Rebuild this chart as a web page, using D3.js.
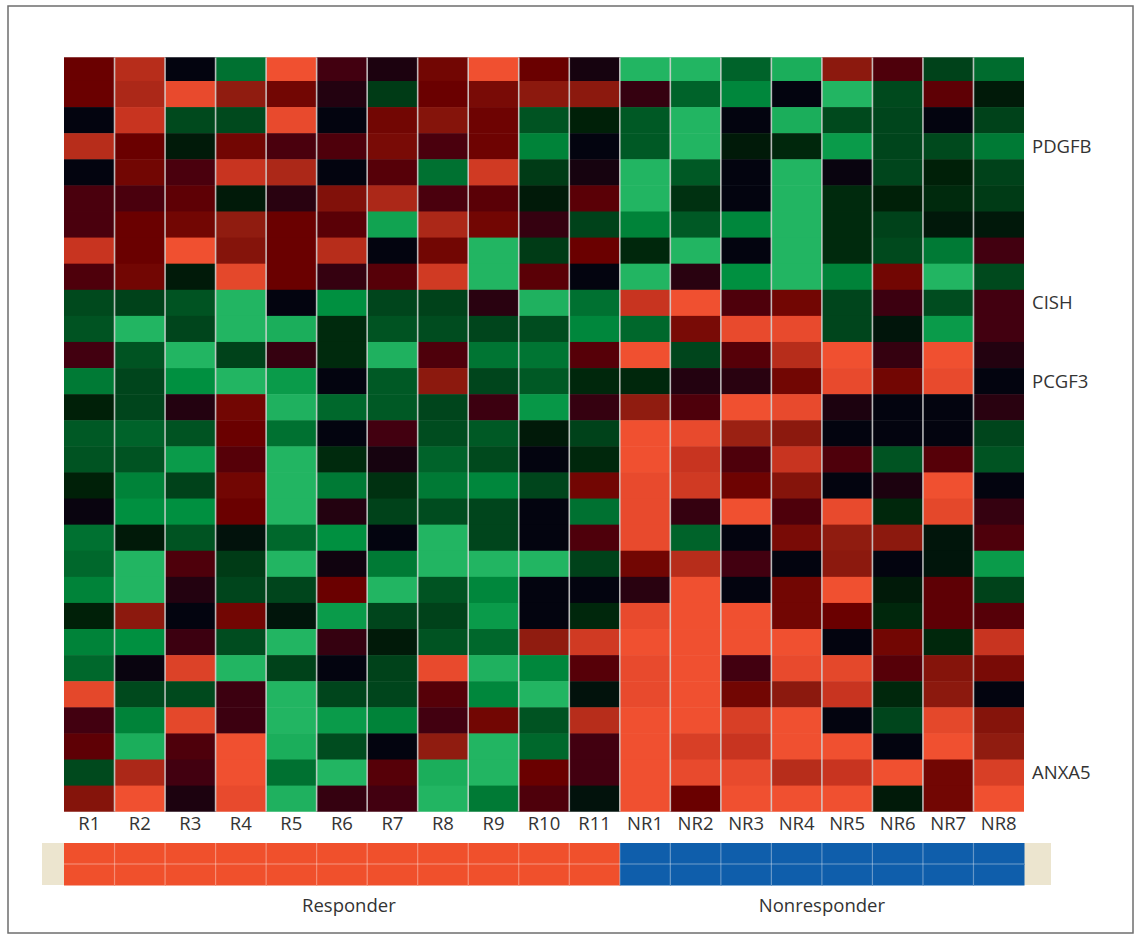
<!DOCTYPE html>
<html>
<head>
<meta charset="utf-8">
<script src="https://cdn.jsdelivr.net/npm/d3@7"></script>
<style>
  body { margin: 0; background: #fff; }
  text { font-family: 'Open Sans', 'Noto Sans', sans-serif; fill: #333; }
</style>
</head>
<body>
<div id="chart"></div>
<script>
// samples (columns) and their group
const samples = ['R1', 'R2', 'R3', 'R4', 'R5', 'R6', 'R7', 'R8', 'R9', 'R10', 'R11',
  'NR1', 'NR2', 'NR3', 'NR4', 'NR5', 'NR6', 'NR7', 'NR8'];
const groups = ['Responder', 'Responder', 'Responder', 'Responder', 'Responder', 'Responder',
  'Responder', 'Responder', 'Responder', 'Responder', 'Responder',
  'Nonresponder', 'Nonresponder', 'Nonresponder', 'Nonresponder', 'Nonresponder',
  'Nonresponder', 'Nonresponder', 'Nonresponder'];
const groupNames = ['Responder', 'Nonresponder'];

// 29 genes, only some are labelled
const geneLabels = ['', '', '', 'PDGFB', '', '', '', '', '', 'CISH', '', '', 'PCGF3', '', '',
  '', '', '', '', '', '', '', '', '', '', '', '', 'ANXA5', ''];

// relative expression per sample (green = low, red = high), top row first
const R1 = [2, 2, 0, 3.7, 0, 1.2, 1.2, 4, 1.3, -2.2, -2.5, 1, -3.5, -1, -2.7, -2.5, -1, 0.1, -3.3, -3.1, -3.7, -1, -3.7, -3.1, 4.7, 1, 1.7, -2.2, 2.7];
const R2 = [3.7, 3.5, 4, 2, 2.2, 1.2, 2, 2, 2.2, -2, -5, -2.5, -2.1, -2.1, -3, -2.5, -3.7, -4, -0.8, -5, -5, 2.9, -4, 0.1, -2.2, -3.7, -4.8, 3.5, 5];
const R3 = [0, 4.8, -2.2, -0.8, 1.2, 1.7, 2.2, 5, -0.8, -2.5, -2.1, -5, -4, 0.5, -2.5, -4.3, -2, -4, -2.5, 1.3, 0.5, 0, 0.9, 4.5, -2.2, 4.7, 1.3, 1, 0.4];
const R4 = [-3.3, 3, -2.2, 2.2, 4, -0.8, 3, 2.7, 4.7, -5, -5, -2, -5, 2.2, 2, 1.5, 2.2, 2, -0.5, -1.8, -2.1, 2.2, -2.3, -5, 0.9, 0.9, 5, 5, 4.8];
const R5 = [5, 2.2, 4.8, 1.2, 3.5, 0.6, 2, 2, 2, 0, -4.8, 0.8, -4.3, -4.9, -3.3, -5, -5, -5, -3.1, -5, -2.1, -0.6, -5, -2, -5, -5, -4.8, -3.3, -4.9];
const R6 = [1, 0.5, 0, 1.3, 0, 2.6, 1.6, 3.7, 0.8, -4, -1.3, -1.3, 0, -3.1, 0, -1.3, -3.5, 0.5, -4, 0.2, 2, -4.3, 0.8, 0, -2.1, -4.3, -2.3, -5, 0.8];
const R7 = [0.4, -1.8, 2.2, 2.4, 1.5, 3.5, -4.5, 0, 1.5, -2.1, -2.5, -4.9, -2.7, -2.7, 1, 0.3, -1.5, -2, 0, -3.5, -5, -2.1, -0.8, -2, -2.1, -3.7, 0, 1.5, 1];
const R8 = [2.2, 2, 2.7, 1.2, -3.3, 1.2, 3.5, 2.2, 4.2, -2, -2.3, 1.3, 2.9, -2.1, -2.3, -3, -3.5, -2.3, -5, -5, -2.5, -2, -2.5, 4.8, 1.5, 1, 3, -4.8, -5];
const R9 = [5, 2.4, 2.1, 2.1, 4.2, 1.6, 2.2, -5, -5, 0.6, -2.1, -3.4, -2.1, 0.9, -2.7, -2.2, -3.8, -2.1, -2.1, -5, -3.8, -4.3, -3.1, -4.9, -3.8, 2.2, -5, -5, -3.5];
const R10 = [2, 2.9, -2.5, -3.7, -1.8, -0.8, 0.8, -1.8, 1.6, -4.9, -2.3, -3.4, -2.7, -4.2, -0.8, 0, -2.1, 0, 0, -5, 0, 0, 3, -3.8, -5, -2.5, -3.1, 2, 1.3];
const R11 = [0.3, 2.9, -1, 0, 0.3, 1.6, -2, 2, 0, -3.3, -3.8, 1.5, -1.2, 0.8, -2, -1.2, 2.2, -3.3, 1.3, -2, 0, -1.2, 4.2, 1.5, -0.5, 3.7, 1, 1, -0.5];
const NR1 = [-5, 0.8, -2.7, -2.7, -5, -5, -3.7, -1.2, -5, 4, -3.1, 5, -1.2, 3, 5, 5, 4.8, 4.8, 4.8, 2.2, 0.6, 4.8, 5, 4.8, 4.8, 5, 5, 5, 5];
const NR2 = [-5, -3, -5, -5, -2.7, -1.5, -2.7, -5, 0.6, 5, 2.4, -2.1, 0.5, 1.3, 4.8, 4, 4.2, 0.8, -3, 3.7, 5, 5, 5, 5, 5, 5, 4.4, 4.8, 2];
const NR3 = [-3, -3.8, 0, -0.8, 0, 0, -3.8, 0, -4, 1.3, 4.8, 1.5, 0.6, 5, 3.2, 1.3, 2.1, 5, 0, 1, 0, 5, 5, 1, 2.2, 4.4, 4, 4.8, 5];
const NR4 = [-4.8, 0, -4.8, -1.2, -5, -5, -5, -5, -5, 2.2, 4.8, 3.7, 2.2, 4.8, 2.9, 4, 2.7, 1.3, 2.4, 0, 2.2, 2.2, 5, 4.8, 2.9, 5, 5, 3.7, 5];
const NR5 = [2.9, -5, -2.2, -4.3, 0.1, -1.3, -1.3, -1.3, -3.7, -2.1, -2.1, 5, 4.8, 0.4, 0, 1.3, 0, 4.8, 3, 2.9, 5, 2, 0, 4.7, 4, 0, 5, 4, 5];
const NR6 = [1.3, -2.2, -2.1, -2.1, -2.1, -1, -2, -2.2, 2.2, 0.9, -0.6, 0.8, 2.2, 0, 0, -2.5, 0.4, -1.2, 2.9, 0, -0.8, -1.2, 2.2, 1.5, -1.2, -2.1, 0, 5, -0.8];
const NR7 = [-2, 1.7, 0, -2.2, -1, -1.3, -0.7, -3.5, -5, -2.3, -4.3, 5, 4.8, 0, 0, 1.5, 5, 4.7, -0.6, -0.6, 1.7, 1.7, -1.2, 2.7, 2.9, 4.7, 5, 2.2, 2.2];
const NR8 = [-3.2, -0.8, -2, -3.5, -2, -1.8, -0.7, 1, -2.2, 1, 1, 0.5, 0, 0.6, -2.1, -2.5, 0, 0.8, 1.3, -4.3, -2, 1.5, 4, 2.4, 0, 2.7, 3, 4.4, 5];

const values = [R1, R2, R3, R4, R5, R6, R7, R8, R9, R10, R11,
  NR1, NR2, NR3, NR4, NR5, NR6, NR7, NR8];

function makeChart() {
  const W = 1137, H = 943;

  const svg = d3.select('#chart')
    .append('svg')
    .attr('width', W)
    .attr('height', H);

  // outer frame
  svg.append('rect')
    .attr('x', 8).attr('y', 6)
    .attr('width', 1125).attr('height', 927)
    .attr('fill', 'none')
    .attr('stroke', '#6e6e6e')
    .attr('stroke-width', 1.5);

  const x = d3.scaleBand().domain(samples).range([64, 1024]);
  // first row is slightly cut at the top, so clip it
  const top = 57.3;
  const y = d3.scaleBand().domain(d3.range(geneLabels.length)).range([54.9, 811.7]);

  const color = d3.scaleLinear()
    .domain([-5, -4, -3, -2, -1, 0, 1, 2, 3, 4, 5])
    .range(['#22b562', '#009040', '#00632a', '#00421a', '#002008', '#03040f',
      '#420010', '#6a0000', '#901c10', '#c83420', '#f05030'])
    .clamp(true);

  svg.append('clipPath').attr('id', 'heatClip')
    .append('rect')
    .attr('x', x.range()[0]).attr('y', top)
    .attr('width', x.range()[1] - x.range()[0])
    .attr('height', y.range()[1] - top);

  const cells = [];
  samples.forEach((s, i) => {
    values[i].forEach((v, r) => cells.push({ sample: s, row: r, value: v }));
  });

  const heat = svg.append('g').attr('clip-path', 'url(#heatClip)');

  heat.selectAll('rect')
    .data(cells)
    .join('rect')
    .attr('x', (d) => x(d.sample))
    .attr('y', (d) => y(d.row))
    .attr('width', x.bandwidth() + 0.5)
    .attr('height', y.bandwidth() + 0.5)
    .attr('fill', (d) => color(d.value));

  // light column separators
  heat.selectAll('line')
    .data(samples.slice(1))
    .join('line')
    .attr('x1', (d) => x(d)).attr('x2', (d) => x(d))
    .attr('y1', top).attr('y2', y.range()[1])
    .attr('stroke', '#d6d6d6')
    .attr('stroke-width', 1.6)
    .attr('opacity', 0.85);

  // sample labels
  svg.append('g')
    .selectAll('text')
    .data(samples)
    .join('text')
    .attr('x', (d) => x(d) + x.bandwidth() / 2)
    .attr('y', 830)
    .attr('text-anchor', 'middle')
    .style('font-size', '18.5px')
    .text((d) => d);

  // gene labels on the right
  svg.append('g')
    .selectAll('text')
    .data(geneLabels.map((g, i) => ({ g, i })).filter((d) => d.g))
    .join('text')
    .attr('x', 1032)
    .attr('y', (d) => y(d.i) + y.bandwidth() / 2)
    .attr('dy', '0.36em')
    .style('font-size', '18.5px')
    .text((d) => d.g);

  // group annotation bar
  const barTop = 843, barH = 42;
  const groupColor = d3.scaleOrdinal().domain(groupNames).range(['#f0502c', '#0f5eab']);

  svg.append('rect')
    .attr('x', 42).attr('y', barTop)
    .attr('width', 1051 - 42).attr('height', barH)
    .attr('fill', '#ece5cf');

  const ann = svg.append('g');
  const annCells = [];
  samples.forEach((s, i) => {
    [0, 1].forEach((k) => annCells.push({ sample: s, group: groups[i], k }));
  });

  ann.selectAll('rect')
    .data(annCells)
    .join('rect')
    .attr('x', (d) => x(d.sample))
    .attr('y', (d) => barTop + (d.k * barH) / 2)
    .attr('width', x.bandwidth() + 0.5)
    .attr('height', barH / 2 + 0.5)
    .attr('fill', (d) => groupColor(d.group));

  ann.selectAll('line.v')
    .data(samples.slice(1))
    .join('line')
    .attr('class', 'v')
    .attr('x1', (d) => x(d)).attr('x2', (d) => x(d))
    .attr('y1', barTop).attr('y2', barTop + barH)
    .attr('stroke', '#fff')
    .attr('stroke-width', 1.2)
    .attr('opacity', 0.35);

  ann.append('line')
    .attr('x1', x.range()[0]).attr('x2', x.range()[1])
    .attr('y1', barTop + barH / 2).attr('y2', barTop + barH / 2)
    .attr('stroke', '#fff')
    .attr('stroke-width', 1.2)
    .attr('opacity', 0.4);

  // group names under the bar
  svg.append('g')
    .selectAll('text')
    .data(groupNames)
    .join('text')
    .attr('x', (g) => {
      const cols = samples.filter((s, i) => groups[i] === g);
      const x0 = x(cols[0]);
      const x1 = x(cols[cols.length - 1]) + x.bandwidth();
      return (x0 + x1) / 2 + (g === 'Responder' ? 7 : 0);
    })
    .attr('y', 912)
    .attr('text-anchor', 'middle')
    .style('font-size', '18.5px')
    .text((g) => g);
}

makeChart();
</script>
</body>
</html>
